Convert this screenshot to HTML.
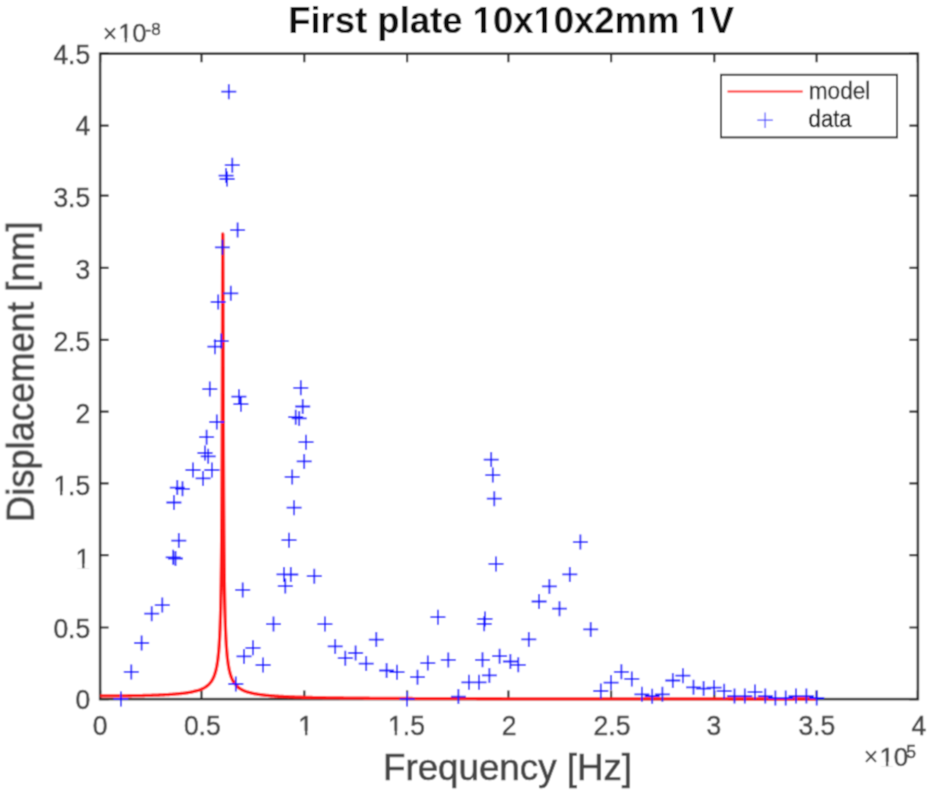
<!DOCTYPE html>
<html><head><meta charset="utf-8"><style>
html,body{margin:0;padding:0;background:#fff;}
svg{display:block;}

text{font-family:"Liberation Sans",sans-serif;}
</style></head><body>
<svg width="928" height="792" viewBox="0 0 928 792">
<defs><filter id="bl" filterUnits="userSpaceOnUse" x="0" y="0" width="928" height="792"><feConvolveMatrix order="3" kernelMatrix="0.0441 0.1218 0.0441 0.1218 0.3364 0.1218 0.0441 0.1218 0.0441" edgeMode="none"/></filter></defs>
<g filter="url(#bl)">
<rect width="928" height="792" fill="#fff"/>
<g id="axes" fill="none" stroke="#2a2a2a" stroke-width="2.5">
<rect x="100.1" y="53.7" width="817.8" height="645.4"/>
<path d="M100.1,699.1v-8.5M100.1,53.7v8.5M201.5,699.1v-8.5M201.5,53.7v8.5M304.3,699.1v-8.5M304.3,53.7v8.5M407.1,699.1v-8.5M407.1,53.7v8.5M508.4,699.1v-8.5M508.4,53.7v8.5M611.1,699.1v-8.5M611.1,53.7v8.5M714.3,699.1v-8.5M714.3,53.7v8.5M816.6,699.1v-8.5M816.6,53.7v8.5M917.9,699.1v-8.5M917.9,53.7v8.5M100.1,699.1h8.5M917.9,699.1h-8.5M100.1,627.5h8.5M917.9,627.5h-8.5M100.1,555.2h8.5M917.9,555.2h-8.5M100.1,483.4h8.5M917.9,483.4h-8.5M100.1,411.6h8.5M917.9,411.6h-8.5M100.1,339.8h8.5M917.9,339.8h-8.5M100.1,267.9h8.5M917.9,267.9h-8.5M100.1,195.7h8.5M917.9,195.7h-8.5M100.1,125.7h8.5M917.9,125.7h-8.5M100.1,53.7h8.5M917.9,53.7h-8.5" stroke-width="2.2"/>
</g>
<path d="M100.10,695.94 L101.10,695.94 L102.10,695.94 L103.10,695.94 L104.10,695.94 L105.10,695.94 L106.10,695.94 L107.10,695.93 L108.10,695.93 L109.10,695.93 L110.10,695.92 L111.10,695.92 L112.10,695.91 L113.10,695.91 L114.10,695.90 L115.10,695.90 L116.10,695.89 L117.10,695.88 L118.10,695.88 L119.10,695.87 L120.10,695.86 L121.10,695.85 L122.10,695.84 L123.10,695.83 L124.10,695.82 L125.10,695.81 L126.10,695.80 L127.10,695.78 L128.10,695.77 L129.10,695.76 L130.10,695.74 L131.10,695.73 L132.10,695.71 L133.10,695.70 L134.10,695.68 L135.10,695.67 L136.10,695.65 L137.10,695.63 L138.10,695.61 L139.10,695.59 L140.10,695.57 L141.10,695.55 L142.10,695.53 L143.10,695.50 L144.10,695.48 L145.10,695.45 L146.10,695.43 L147.10,695.40 L148.10,695.37 L149.10,695.35 L150.10,695.32 L151.10,695.29 L152.10,695.25 L153.10,695.22 L154.10,695.19 L155.10,695.15 L156.10,695.11 L157.10,695.08 L158.10,695.04 L159.10,695.00 L160.10,694.95 L161.10,694.91 L162.10,694.86 L163.10,694.82 L164.10,694.77 L165.10,694.71 L166.10,694.66 L167.10,694.60 L168.10,694.55 L169.10,694.49 L170.10,694.42 L171.10,694.36 L172.10,694.29 L173.10,694.22 L174.10,694.14 L175.10,694.06 L176.10,693.98 L177.10,693.90 L178.10,693.81 L179.10,693.71 L180.10,693.61 L181.10,693.51 L182.10,693.40 L183.10,693.28 L184.10,693.16 L185.10,693.03 L186.10,692.90 L187.10,692.75 L188.10,692.60 L189.10,692.44 L190.10,692.27 L191.10,692.09 L192.10,691.89 L193.10,691.69 L194.10,691.46 L195.10,691.22 L196.10,690.97 L197.10,690.69 L198.10,690.39 L199.10,690.06 L200.10,689.70 L201.10,689.32 L202.10,688.89 L203.10,688.42 L204.10,687.90 L205.10,687.32 L206.10,686.67 L207.10,685.93 L208.10,685.10 L208.30,684.92 L208.50,684.73 L208.70,684.54 L208.90,684.34 L209.10,684.14 L209.30,683.93 L209.50,683.72 L209.70,683.50 L209.90,683.27 L210.10,683.03 L210.30,682.79 L210.50,682.54 L210.70,682.28 L210.90,682.01 L211.10,681.74 L211.30,681.45 L211.50,681.15 L211.70,680.85 L211.90,680.53 L212.10,680.20 L212.30,679.85 L212.50,679.50 L212.70,679.13 L212.90,678.74 L213.10,678.34 L213.30,677.92 L213.50,677.49 L213.70,677.03 L213.90,676.55 L214.10,676.06 L214.30,675.54 L214.50,674.99 L214.70,674.42 L214.90,673.81 L215.10,673.18 L215.30,672.51 L215.50,671.81 L215.70,671.07 L215.90,670.28 L216.10,669.45 L216.30,668.57 L216.50,667.63 L216.70,666.63 L216.90,665.56 L217.10,664.42 L217.30,663.20 L217.50,661.88 L217.70,660.46 L217.90,658.93 L218.10,657.27 L218.30,655.46 L218.50,653.48 L218.70,651.32 L218.90,648.94 L219.10,646.30 L219.30,643.37 L219.50,640.09 L219.70,636.40 L219.90,632.22 L219.95,631.08 L220.00,629.91 L220.05,628.69 L220.10,627.43 L220.15,626.12 L220.20,624.77 L220.25,623.37 L220.30,621.91 L220.35,620.39 L220.40,618.81 L220.45,617.17 L220.50,615.46 L220.55,613.68 L220.60,611.83 L220.65,609.89 L220.70,607.86 L220.75,605.74 L220.80,603.52 L220.85,601.19 L220.90,598.75 L220.95,596.19 L221.00,593.49 L221.05,590.65 L221.10,587.66 L221.15,584.51 L221.20,581.17 L221.25,577.64 L221.30,573.90 L221.35,569.93 L221.40,565.71 L221.45,561.21 L221.50,556.42 L221.55,551.29 L221.60,545.81 L221.65,539.93 L221.70,533.60 L221.75,526.80 L221.80,519.45 L221.85,511.51 L221.90,502.91 L221.95,493.58 L222.00,483.43 L222.05,472.38 L222.10,460.33 L222.15,447.18 L222.20,432.84 L222.25,417.22 L222.30,400.26 L222.35,381.93 L222.40,362.31 L222.45,341.59 L222.50,320.15 L222.55,298.65 L222.60,278.06 L222.65,259.67 L222.70,244.99 L222.75,235.52 L222.80,233.99 L222.85,235.89 L222.90,245.71 L222.95,260.68 L223.00,279.30 L223.05,300.06 L223.10,321.68 L223.15,343.20 L223.20,363.98 L223.25,383.63 L223.30,401.97 L223.35,418.94 L223.40,434.56 L223.45,448.90 L223.50,462.04 L223.55,474.08 L223.60,485.13 L223.65,495.27 L223.70,504.60 L223.75,513.19 L223.80,521.13 L223.85,528.46 L223.90,535.26 L223.95,541.58 L224.00,547.46 L224.05,552.94 L224.10,558.06 L224.15,562.85 L224.20,567.34 L224.25,571.56 L224.30,575.53 L224.35,579.27 L224.40,582.79 L224.45,586.13 L224.50,589.28 L224.55,592.27 L224.60,595.11 L224.65,597.80 L224.70,600.36 L224.75,602.80 L224.80,605.13 L224.85,607.35 L224.90,609.46 L224.95,611.49 L225.00,613.43 L225.05,615.29 L225.10,617.07 L225.15,618.77 L225.20,620.41 L225.25,621.99 L225.30,623.51 L225.35,624.96 L225.40,626.37 L225.45,627.72 L225.50,629.03 L225.55,630.28 L225.60,631.50 L225.65,632.67 L225.70,633.81 L225.75,634.91 L225.80,635.97 L226.00,639.89 L226.20,643.37 L226.40,646.47 L226.60,649.24 L226.80,651.74 L227.00,654.01 L227.20,656.08 L227.40,657.97 L227.60,659.70 L227.80,661.29 L228.00,662.77 L228.20,664.13 L228.40,665.40 L228.60,666.58 L228.80,667.69 L229.00,668.72 L229.20,669.69 L229.40,670.60 L229.60,671.45 L229.80,672.26 L230.00,673.03 L230.20,673.75 L230.40,674.43 L230.60,675.08 L230.80,675.70 L231.00,676.29 L231.20,676.85 L231.40,677.38 L231.60,677.89 L231.80,678.38 L232.00,678.84 L232.20,679.29 L232.40,679.71 L232.60,680.12 L232.80,680.52 L233.00,680.90 L233.20,681.26 L233.40,681.61 L233.60,681.95 L233.80,682.27 L234.00,682.58 L234.20,682.89 L234.40,683.18 L234.60,683.46 L234.80,683.73 L235.00,683.99 L235.20,684.25 L235.40,684.50 L235.60,684.74 L235.80,684.97 L236.00,685.19 L236.20,685.41 L236.40,685.62 L236.60,685.83 L236.80,686.03 L237.00,686.22 L237.20,686.41 L237.40,686.59 L237.60,686.77 L237.80,686.94 L238.00,687.11 L239.00,687.90 L240.00,688.59 L241.00,689.20 L242.00,689.75 L243.00,690.25 L244.00,690.70 L245.00,691.11 L246.00,691.48 L247.00,691.82 L248.00,692.13 L249.00,692.43 L250.00,692.69 L251.00,692.94 L252.00,693.18 L253.00,693.39 L254.00,693.60 L255.00,693.79 L256.00,693.96 L257.00,694.13 L258.00,694.29 L259.00,694.44 L260.00,694.58 L261.00,694.72 L262.00,694.84 L263.00,694.96 L264.00,695.08 L265.00,695.19 L266.00,695.29 L267.00,695.39 L268.00,695.48 L269.00,695.57 L270.00,695.66 L271.00,695.74 L272.00,695.82 L273.00,695.90 L274.00,695.97 L275.00,696.04 L276.00,696.11 L277.00,696.17 L278.00,696.24 L279.00,696.30 L280.00,696.36 L281.00,696.41 L282.00,696.47 L283.00,696.52 L284.00,696.57 L285.00,696.62 L286.00,696.66 L287.00,696.71 L288.00,696.75 L289.00,696.80 L290.00,696.84 L291.00,696.88 L292.00,696.92 L293.00,696.96 L294.00,696.99 L295.00,697.03 L296.00,697.06 L297.00,697.10 L298.00,697.13 L299.00,697.16 L300.00,697.19 L301.00,697.22 L302.00,697.25 L303.00,697.28 L304.00,697.31 L305.00,697.34 L306.00,697.36 L307.00,697.39 L308.00,697.41 L309.00,697.44 L310.00,697.46 L311.00,697.49 L312.00,697.51 L313.00,697.53 L314.00,697.55 L315.00,697.57 L316.00,697.59 L317.00,697.62 L318.00,697.64 L319.00,697.65 L320.00,697.67 L321.00,697.69 L322.00,697.71 L323.00,697.73 L324.00,697.75 L325.00,697.76 L326.00,697.78 L327.00,697.80 L328.00,697.81 L329.00,697.83 L330.00,697.84 L331.00,697.86 L332.00,697.87 L333.00,697.89 L334.00,697.90 L335.00,697.92 L336.00,697.93 L337.00,697.94 L338.00,697.96 L339.00,697.97 L340.00,697.98 L341.00,697.99 L342.00,698.01 L343.00,698.02 L344.00,698.03 L345.00,698.04 L346.00,698.05 L347.00,698.07 L348.00,698.08 L349.00,698.09 L350.00,698.10 L351.00,698.11 L352.00,698.12 L353.00,698.13 L354.00,698.14 L355.00,698.15 L356.00,698.16 L357.00,698.17 L358.00,698.18 L359.00,698.19 L360.00,698.20 L361.00,698.20 L362.00,698.21 L363.00,698.22 L364.00,698.23 L365.00,698.24 L366.00,698.25 L367.00,698.25 L368.00,698.26 L369.00,698.27 L370.00,698.28 L371.00,698.29 L372.00,698.29 L373.00,698.30 L374.00,698.31 L375.00,698.32 L376.00,698.32 L377.00,698.33 L378.00,698.34 L379.00,698.34 L380.00,698.35 L381.00,698.36 L382.00,698.36 L383.00,698.37 L384.00,698.38 L385.00,698.38 L386.00,698.39 L387.00,698.39 L388.00,698.40 L389.00,698.41 L390.00,698.41 L391.00,698.42 L392.00,698.42 L393.00,698.43 L394.00,698.43 L395.00,698.44 L396.00,698.44 L397.00,698.45 L398.00,698.46 L399.00,698.46 L400.00,698.47 L401.00,698.47 L402.00,698.48 L403.00,698.48 L404.00,698.49 L405.00,698.49 L406.00,698.50 L407.00,698.50 L408.00,698.50 L409.00,698.51 L410.00,698.51 L411.00,698.52 L412.00,698.52 L413.00,698.53 L414.00,698.53 L415.00,698.54 L416.00,698.54 L417.00,698.54 L418.00,698.55 L419.00,698.55 L420.00,698.56 L421.00,698.56 L422.00,698.56 L423.00,698.57 L424.00,698.57 L425.00,698.58 L426.00,698.58 L427.00,698.58 L428.00,698.59 L429.00,698.59 L430.00,698.59 L431.00,698.60 L432.00,698.60 L433.00,698.60 L434.00,698.61 L435.00,698.61 L436.00,698.61 L437.00,698.62 L438.00,698.62 L439.00,698.62 L440.00,698.63 L441.00,698.63 L442.00,698.63 L443.00,698.64 L444.00,698.64 L445.00,698.64 L446.00,698.65 L447.00,698.65 L448.00,698.65 L449.00,698.65 L450.00,698.66 L451.00,698.66 L452.00,698.66 L453.00,698.67 L454.00,698.67 L455.00,698.67 L456.00,698.67 L457.00,698.68 L458.00,698.68 L459.00,698.68 L460.00,698.69 L461.00,698.69 L462.00,698.69 L463.00,698.69 L464.00,698.70 L465.00,698.70 L466.00,698.70 L467.00,698.70 L468.00,698.71 L469.00,698.71 L470.00,698.71 L471.00,698.71 L472.00,698.71 L473.00,698.72 L474.00,698.72 L475.00,698.72 L476.00,698.72 L477.00,698.73 L478.00,698.73 L479.00,698.73 L480.00,698.73 L481.00,698.73 L482.00,698.74 L483.00,698.74 L484.00,698.74 L485.00,698.74 L486.00,698.75 L487.00,698.75 L488.00,698.75 L489.00,698.75 L490.00,698.75 L491.00,698.76 L492.00,698.76 L493.00,698.76 L494.00,698.76 L495.00,698.76 L496.00,698.76 L497.00,698.77 L498.00,698.77 L499.00,698.77 L500.00,698.77 L501.00,698.77 L502.00,698.78 L503.00,698.78 L504.00,698.78 L505.00,698.78 L506.00,698.78 L507.00,698.78 L508.00,698.79 L509.00,698.79 L510.00,698.79 L511.00,698.79 L512.00,698.79 L513.00,698.79 L514.00,698.80 L515.00,698.80 L516.00,698.80 L517.00,698.80 L518.00,698.80 L519.00,698.80 L520.00,698.81 L521.00,698.81 L522.00,698.81 L523.00,698.81 L524.00,698.81 L525.00,698.81 L526.00,698.81 L527.00,698.82 L528.00,698.82 L529.00,698.82 L530.00,698.82 L531.00,698.82 L532.00,698.82 L533.00,698.82 L534.00,698.83 L535.00,698.83 L536.00,698.83 L537.00,698.83 L538.00,698.83 L539.00,698.83 L540.00,698.83 L541.00,698.84 L542.00,698.84 L543.00,698.84 L544.00,698.84 L545.00,698.84 L546.00,698.84 L547.00,698.84 L548.00,698.84 L549.00,698.85 L550.00,698.85 L551.00,698.85 L552.00,698.85 L553.00,698.85 L554.00,698.85 L555.00,698.85 L556.00,698.85 L557.00,698.85 L558.00,698.86 L559.00,698.86 L560.00,698.86 L561.00,698.86 L562.00,698.86 L563.00,698.86 L564.00,698.86 L565.00,698.86 L566.00,698.86 L567.00,698.87 L568.00,698.87 L569.00,698.87 L570.00,698.87 L571.00,698.87 L572.00,698.87 L573.00,698.87 L574.00,698.87 L575.00,698.87 L576.00,698.88 L577.00,698.88 L578.00,698.88 L579.00,698.88 L580.00,698.88 L581.00,698.88 L582.00,698.88 L583.00,698.88 L584.00,698.88 L585.00,698.88 L586.00,698.89 L587.00,698.89 L588.00,698.89 L589.00,698.89 L590.00,698.89 L591.00,698.89 L592.00,698.89 L593.00,698.89 L594.00,698.89 L595.00,698.89 L596.00,698.89 L597.00,698.90 L598.00,698.90 L599.00,698.90 L600.00,698.90 L601.00,698.90 L602.00,698.90 L603.00,698.90 L604.00,698.90 L605.00,698.90 L606.00,698.90 L607.00,698.90 L608.00,698.90 L609.00,698.91 L610.00,698.91 L611.00,698.91 L612.00,698.91 L613.00,698.91 L614.00,698.91 L615.00,698.91 L616.00,698.91 L617.00,698.91 L618.00,698.91 L619.00,698.91 L620.00,698.91 L621.00,698.91 L622.00,698.92 L623.00,698.92 L624.00,698.92 L625.00,698.92 L626.00,698.92 L627.00,698.92 L628.00,698.92 L629.00,698.92 L630.00,698.92 L631.00,698.92 L632.00,698.92 L633.00,698.92 L634.00,698.92 L635.00,698.92 L636.00,698.93 L637.00,698.93 L638.00,698.93 L639.00,698.93 L640.00,698.93 L641.00,698.93 L642.00,698.93 L643.00,698.93 L644.00,698.93 L645.00,698.93 L646.00,698.93 L647.00,698.93 L648.00,698.93 L649.00,698.93 L650.00,698.93 L651.00,698.94 L652.00,698.94 L653.00,698.94 L654.00,698.94 L655.00,698.94 L656.00,698.94 L657.00,698.94 L658.00,698.94 L659.00,698.94 L660.00,698.94 L661.00,698.94 L662.00,698.94 L663.00,698.94 L664.00,698.94 L665.00,698.94 L666.00,698.94 L667.00,698.94 L668.00,698.95 L669.00,698.95 L670.00,698.95 L671.00,698.95 L672.00,698.95 L673.00,698.95 L674.00,698.95 L675.00,698.95 L676.00,698.95 L677.00,698.95 L678.00,698.95 L679.00,698.95 L680.00,698.95 L681.00,698.95 L682.00,698.95 L683.00,698.95 L684.00,698.95 L685.00,698.95 L686.00,698.96 L687.00,698.96 L688.00,698.96 L689.00,698.96 L690.00,698.96 L691.00,698.96 L692.00,698.96 L693.00,698.96 L694.00,698.96 L695.00,698.96 L696.00,698.96 L697.00,698.96 L698.00,698.96 L699.00,698.96 L700.00,698.96 L701.00,698.96 L702.00,698.96 L703.00,698.96 L704.00,698.96 L705.00,698.96 L706.00,698.97 L707.00,698.97 L708.00,698.97 L709.00,698.97 L710.00,698.97 L711.00,698.97 L712.00,698.97 L713.00,698.97 L714.00,698.97 L715.00,698.97 L716.00,698.97 L717.00,698.97 L718.00,698.97 L719.00,698.97 L720.00,698.97 L721.00,698.97 L722.00,698.97 L723.00,698.97 L724.00,698.97 L725.00,698.97 L726.00,698.97 L727.00,698.97 L728.00,698.97 L729.00,698.98 L730.00,698.98 L731.00,698.98 L732.00,698.98 L733.00,698.98 L734.00,698.98 L735.00,698.98 L736.00,698.98 L737.00,698.98 L738.00,698.98 L739.00,698.98 L740.00,698.98 L741.00,698.98 L742.00,698.98 L743.00,698.98 L744.00,698.98 L745.00,698.98 L746.00,698.98 L747.00,698.98 L748.00,698.98 L749.00,698.98 L750.00,698.98 L751.00,698.98 L752.00,698.98 L753.00,698.98 L754.00,698.98 L755.00,698.99 L756.00,698.99 L757.00,698.99 L758.00,698.99 L759.00,698.99 L760.00,698.99 L761.00,698.99 L762.00,698.99 L763.00,698.99 L764.00,698.99 L765.00,698.99 L766.00,698.99 L767.00,698.99 L768.00,698.99 L769.00,698.99 L770.00,698.99 L771.00,698.99 L772.00,698.99 L773.00,698.99 L774.00,698.99 L775.00,698.99 L776.00,698.99 L777.00,698.99 L778.00,698.99 L779.00,698.99 L780.00,698.99 L781.00,698.99 L782.00,698.99 L783.00,698.99 L784.00,699.00 L785.00,699.00 L786.00,699.00 L787.00,699.00 L788.00,699.00 L789.00,699.00 L790.00,699.00 L791.00,699.00 L792.00,699.00 L793.00,699.00 L794.00,699.00 L795.00,699.00 L796.00,699.00 L797.00,699.00 L798.00,699.00 L799.00,699.00 L800.00,699.00 L801.00,699.00 L802.00,699.00 L803.00,699.00 L804.00,699.00 L805.00,699.00 L806.00,699.00 L807.00,699.00 L808.00,699.00 L809.00,699.00 L810.00,699.00 L811.00,699.00 L812.00,699.00 L813.00,699.00 L814.00,699.00 L815.00,699.00 L815.80,699.00" fill="none" stroke="#ff1414" stroke-width="3.3" stroke-linejoin="round"/>
<path d="M113.4,699.0h15.0M120.9,691.5v15.0M123.8,671.9h15.0M131.3,664.4v15.0M134.1,643.0h15.0M141.6,635.5v15.0M144.2,613.7h15.0M151.7,606.2v15.0M154.8,605.1h15.0M162.3,597.6v15.0M165.7,557.3h15.0M173.2,549.8v15.0M168.0,558.5h15.0M175.5,551.0v15.0M171.3,540.6h15.0M178.8,533.1v15.0M166.4,502.5h15.0M173.9,495.0v15.0M169.8,487.6h15.0M177.3,480.1v15.0M175.0,488.8h15.0M182.5,481.3v15.0M185.5,470.0h15.0M193.0,462.5v15.0M195.6,478.4h15.0M203.1,470.9v15.0M204.4,470.0h15.0M211.9,462.5v15.0M197.5,453.0h15.0M205.0,445.5v15.0M200.7,456.3h15.0M208.2,448.8v15.0M199.1,437.2h15.0M206.6,429.7v15.0M209.3,422.0h15.0M216.8,414.5v15.0M202.3,389.1h15.0M209.8,381.6v15.0M207.4,346.7h15.0M214.9,339.2v15.0M213.7,341.1h15.0M221.2,333.6v15.0M210.7,302.0h15.0M218.2,294.5v15.0M214.9,247.3h15.0M222.4,239.8v15.0M221.3,91.7h15.0M228.8,84.2v15.0M224.8,165.2h15.0M232.3,157.7v15.0M218.6,175.6h15.0M226.1,168.1v15.0M219.6,179.0h15.0M227.1,171.5v15.0M230.1,230.1h15.0M237.6,222.6v15.0M223.3,293.3h15.0M230.8,285.8v15.0M231.4,396.7h15.0M238.9,389.2v15.0M233.4,404.2h15.0M240.9,396.7v15.0M235.2,589.9h15.0M242.7,582.4v15.0M228.3,684.0h15.0M235.8,676.5v15.0M236.5,656.4h15.0M244.0,648.9v15.0M245.5,647.8h15.0M253.0,640.3v15.0M255.6,665.0h15.0M263.1,657.5v15.0M266.0,624.1h15.0M273.5,616.6v15.0M276.5,574.4h15.0M284.0,566.9v15.0M283.3,574.5h15.0M290.8,567.0v15.0M277.8,586.1h15.0M285.3,578.6v15.0M281.5,540.2h15.0M289.0,532.7v15.0M286.6,507.7h15.0M294.1,500.2v15.0M284.7,476.9h15.0M292.2,469.4v15.0M296.7,461.4h15.0M304.2,453.9v15.0M298.5,442.2h15.0M306.0,434.7v15.0M288.2,417.2h15.0M295.7,409.7v15.0M291.7,418.4h15.0M299.2,410.9v15.0M295.2,406.5h15.0M302.7,399.0v15.0M293.3,387.8h15.0M300.8,380.3v15.0M306.8,576.2h15.0M314.3,568.7v15.0M317.4,624.1h15.0M324.9,616.6v15.0M327.7,646.4h15.0M335.2,638.9v15.0M337.8,658.2h15.0M345.3,650.7v15.0M348.1,653.0h15.0M355.6,645.5v15.0M358.7,663.6h15.0M366.2,656.1v15.0M368.8,639.6h15.0M376.3,632.1v15.0M379.1,670.5h15.0M386.6,663.0v15.0M389.5,672.2h15.0M397.0,664.7v15.0M399.6,699.1h15.0M407.1,691.6v15.0M410.0,677.2h15.0M417.5,669.7v15.0M420.3,663.1h15.0M427.8,655.6v15.0M430.4,617.2h15.0M437.9,609.7v15.0M440.8,659.9h15.0M448.3,652.4v15.0M450.9,696.6h15.0M458.4,689.1v15.0M461.4,682.3h15.0M468.9,674.8v15.0M471.5,682.3h15.0M479.0,674.8v15.0M481.9,675.4h15.0M489.4,667.9v15.0M475.0,659.8h15.0M482.5,652.3v15.0M477.5,618.9h15.0M485.0,611.4v15.0M476.7,623.8h15.0M484.2,616.3v15.0M483.7,459.6h15.0M491.2,452.1v15.0M485.3,475.1h15.0M492.8,467.6v15.0M486.8,498.7h15.0M494.3,491.2v15.0M488.5,563.9h15.0M496.0,556.4v15.0M492.1,656.2h15.0M499.6,648.7v15.0M502.9,661.5h15.0M510.4,654.0v15.0M510.8,664.8h15.0M518.3,657.3v15.0M521.3,639.4h15.0M528.8,631.9v15.0M531.6,601.5h15.0M539.1,594.0v15.0M541.9,586.4h15.0M549.4,578.9v15.0M552.0,608.7h15.0M559.5,601.2v15.0M562.3,574.4h15.0M569.8,566.9v15.0M572.9,542.1h15.0M580.4,534.6v15.0M583.2,629.4h15.0M590.7,621.9v15.0M593.3,691.0h15.0M600.8,683.5v15.0M603.6,682.6h15.0M611.1,675.1v15.0M613.9,671.8h15.0M621.4,664.3v15.0M624.3,678.9h15.0M631.8,671.4v15.0M634.4,694.3h15.0M641.9,686.8v15.0M644.7,696.2h15.0M652.2,688.7v15.0M654.9,694.3h15.0M662.4,686.8v15.0M665.3,680.5h15.0M672.8,673.0v15.0M675.4,675.7h15.0M682.9,668.2v15.0M686.0,687.3h15.0M693.5,679.8v15.0M696.1,688.6h15.0M703.6,681.1v15.0M706.6,687.6h15.0M714.1,680.1v15.0M716.7,691.2h15.0M724.2,683.7v15.0M727.0,696.1h15.0M734.5,688.6v15.0M737.3,696.1h15.0M744.8,688.6v15.0M747.5,692.1h15.0M755.0,684.6v15.0M757.8,696.1h15.0M765.3,688.6v15.0M767.9,698.0h15.0M775.4,690.5v15.0M778.2,698.0h15.0M785.7,690.5v15.0M788.5,696.1h15.0M796.0,688.6v15.0M798.9,696.1h15.0M806.4,688.6v15.0M809.2,698.0h15.0M816.7,690.5v15.0" fill="none" stroke="#1414ff" stroke-width="1.8"/>
<g fill="#474747" stroke="#474747" stroke-width="0.5" font-size="26.5">
<g transform="translate(100.2,734.9) scale(1,1.07)"><text id="xl0" text-anchor="middle">0</text></g><g transform="translate(202.3,734.9) scale(1,1.07)"><text id="xl1" text-anchor="middle">0.5</text></g><g transform="translate(305.7,734.9) scale(1,1.07)"><text id="xl2" text-anchor="middle">1</text><rect x="-6.55" y="-3.78" width="5.80" height="4.78" fill="#fff" stroke="none"/><rect x="1.69" y="-3.78" width="5.59" height="4.78" fill="#fff" stroke="none"/></g><g transform="translate(406.5,734.9) scale(1,1.07)"><text id="xl3" text-anchor="middle">1.5</text><rect x="-17.60" y="-3.78" width="5.80" height="4.78" fill="#fff" stroke="none"/><rect x="-9.36" y="-3.78" width="5.59" height="4.78" fill="#fff" stroke="none"/></g><g transform="translate(509.0,734.9) scale(1,1.07)"><text id="xl4" text-anchor="middle">2</text></g><g transform="translate(612.0,734.9) scale(1,1.07)"><text id="xl5" text-anchor="middle">2.5</text></g><g transform="translate(713.9,734.9) scale(1,1.07)"><text id="xl6" text-anchor="middle">3</text></g><g transform="translate(816.8,734.9) scale(1,1.07)"><text id="xl7" text-anchor="middle">3.5</text></g><g transform="translate(918.9,734.9) scale(1,1.07)"><text id="xl8" text-anchor="middle">4</text></g>
<g transform="translate(90.2,709.4) scale(1,1.04)"><text id="yl0" text-anchor="end">0</text></g><g transform="translate(90.2,637.7) scale(1,1.04)"><text id="yl1" text-anchor="end">0.5</text></g><g transform="translate(90.2,567.5) scale(1,1.04)"><text id="yl2" text-anchor="end">1</text><rect x="-13.92" y="-3.78" width="5.79" height="4.78" fill="#fff" stroke="none"/><rect x="-5.68" y="-3.78" width="5.59" height="4.78" fill="#fff" stroke="none"/></g><g transform="translate(90.2,495.2) scale(1,1.04)"><text id="yl3" text-anchor="end">1.5</text><rect x="-36.00" y="-3.78" width="5.79" height="4.78" fill="#fff" stroke="none"/><rect x="-27.77" y="-3.78" width="5.59" height="4.78" fill="#fff" stroke="none"/></g><g transform="translate(90.2,422.8) scale(1,1.04)"><text id="yl4" text-anchor="end">2</text></g><g transform="translate(90.2,351.3) scale(1,1.04)"><text id="yl5" text-anchor="end">2.5</text></g><g transform="translate(90.2,279.3) scale(1,1.04)"><text id="yl6" text-anchor="end">3</text></g><g transform="translate(90.2,207.0) scale(1,1.04)"><text id="yl7" text-anchor="end">3.5</text></g><g transform="translate(90.2,135.3) scale(1,1.04)"><text id="yl8" text-anchor="end">4</text></g><g transform="translate(90.2,63.7) scale(1,1.04)"><text id="yl9" text-anchor="end">4.5</text></g>
</g>
<g fill="#474747" stroke="#474747" stroke-width="0.5">
<path d="M105,28.2l10,10.6M115,28.2l-10,10.6" stroke="#474747" stroke-width="2"/>
<text id="e8" x="118.5" y="41.9" font-size="25">10</text><rect x="119.20" y="38.23" width="5.53" height="4.67" fill="#fff" stroke="none"/><rect x="127.05" y="38.23" width="5.34" height="4.67" fill="#fff" stroke="none"/>
<text x="145.6" y="34.8" font-size="17">-8</text>
<path d="M866,751.3l10,10.6M876,751.3l-10,10.6" stroke="#474747" stroke-width="2"/>
<text id="e5" x="879.4" y="765.5" font-size="26">10</text><rect x="880.18" y="761.76" width="5.71" height="4.74" fill="#fff" stroke="none"/><rect x="888.29" y="761.76" width="5.51" height="4.74" fill="#fff" stroke="none"/>
<text x="906.3" y="758" font-size="17.5">5</text>
</g>
<g transform="translate(511.2,32.5) scale(1,1.045)"><text x="0" y="0" font-size="36" font-weight="bold" text-anchor="middle" textLength="446" lengthAdjust="spacingAndGlyphs" fill="#0a0a0a" id="title">First plate 10x10x2mm 1V</text><rect x="-37.49" y="-5.47" width="7.37" height="6.47" fill="#fff" stroke="none"/><rect x="-25.01" y="-5.47" width="6.91" height="6.47" fill="#fff" stroke="none"/><rect x="23.35" y="-5.47" width="7.37" height="6.47" fill="#fff" stroke="none"/><rect x="35.83" y="-5.47" width="6.91" height="6.47" fill="#fff" stroke="none"/><rect x="179.47" y="-5.47" width="7.37" height="6.47" fill="#fff" stroke="none"/><rect x="191.95" y="-5.47" width="6.91" height="6.47" fill="#fff" stroke="none"/></g>
<text transform="translate(507.5,779.8) scale(1,1.035)" font-size="36" text-anchor="middle" textLength="249" lengthAdjust="spacingAndGlyphs" fill="#454545" stroke="#454545" stroke-width="0.6">Frequency [Hz]</text>
<text transform="translate(33.8,371.6) rotate(-90) scale(1,1.06)" font-size="36" text-anchor="middle" textLength="300.8" lengthAdjust="spacingAndGlyphs" fill="#454545" stroke="#454545" stroke-width="0.6">Displacement [nm]</text>
<g id="legend">
<rect x="721" y="74.8" width="176" height="62.6" fill="#fff" stroke="#333" stroke-width="2"/>
<path d="M727.5,91.4H802.7" stroke="#ff3030" stroke-width="2"/>
<path d="M757.3,120.2h15.6M765.1,112.4v15.6" stroke="#5050ff" stroke-width="1.2" fill="none"/>
<text x="808.8" y="99.4" font-size="23.5" textLength="61.5" lengthAdjust="spacingAndGlyphs" fill="#2a2a2a" stroke="#2a2a2a" stroke-width="0.3">model</text>
<text x="808.6" y="126.6" font-size="23.5" textLength="43" lengthAdjust="spacingAndGlyphs" fill="#111" stroke="#111" stroke-width="0.3">data</text>
</g>
</g>
</svg>
</body></html>
